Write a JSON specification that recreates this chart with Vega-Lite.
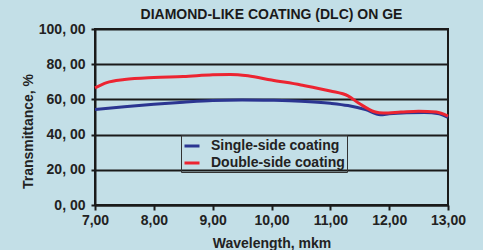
{
  "$schema": "https://vega.github.io/schema/vega-lite/v6.json",
  "autosize": "none",
  "width": 353,
  "height": 176,
  "padding": {"left": 95, "top": 29, "right": 35, "bottom": 45},
  "background": "#c3dfe7",
  "title": {"text": "DIAMOND-LIKE COATING (DLC) ON GE", "anchor": "middle", "fontSize": 14, "font": "Liberation Sans", "fontWeight": "bold", "color": "#1a1a1a", "offset": 0},
  "config": {
    "view": {"stroke": "#1a1a1a", "strokeWidth": 2, "fill": null},
    "axis": {"labelFont": "Liberation Sans", "titleFont": "Liberation Sans", "labelFontWeight": "bold", "titleFontWeight": "bold", "labelColor": "#222", "titleColor": "#222", "domainColor": "#1a1a1a", "domainWidth": 2, "tickColor": "#1a1a1a", "tickWidth": 2, "gridColor": "#1a1a1a", "gridWidth": 2, "gridOpacity": 1}
  },
  "data": {"values": [
    {"w": 7.0, "t": 54.3, "s": "Single-side coating"},
    {"w": 7.5, "t": 55.8, "s": "Single-side coating"},
    {"w": 8.0, "t": 57.2, "s": "Single-side coating"},
    {"w": 8.5, "t": 58.4, "s": "Single-side coating"},
    {"w": 9.0, "t": 59.4, "s": "Single-side coating"},
    {"w": 9.5, "t": 59.7, "s": "Single-side coating"},
    {"w": 10.0, "t": 59.5, "s": "Single-side coating"},
    {"w": 10.5, "t": 59.0, "s": "Single-side coating"},
    {"w": 11.0, "t": 57.8, "s": "Single-side coating"},
    {"w": 11.3, "t": 56.5, "s": "Single-side coating"},
    {"w": 11.6, "t": 54.2, "s": "Single-side coating"},
    {"w": 11.85, "t": 51.3, "s": "Single-side coating"},
    {"w": 12.0, "t": 51.8, "s": "Single-side coating"},
    {"w": 12.3, "t": 52.4, "s": "Single-side coating"},
    {"w": 12.6, "t": 52.6, "s": "Single-side coating"},
    {"w": 12.85, "t": 51.8, "s": "Single-side coating"},
    {"w": 13.0, "t": 49.7, "s": "Single-side coating"},
    {"w": 7.0, "t": 66.5, "s": "Double-side coating"},
    {"w": 7.2, "t": 69.5, "s": "Double-side coating"},
    {"w": 7.5, "t": 71.3, "s": "Double-side coating"},
    {"w": 8.0, "t": 72.5, "s": "Double-side coating"},
    {"w": 8.5, "t": 73.0, "s": "Double-side coating"},
    {"w": 9.0, "t": 74.0, "s": "Double-side coating"},
    {"w": 9.3, "t": 74.2, "s": "Double-side coating"},
    {"w": 9.6, "t": 73.4, "s": "Double-side coating"},
    {"w": 10.0, "t": 71.0, "s": "Double-side coating"},
    {"w": 10.5, "t": 68.2, "s": "Double-side coating"},
    {"w": 11.0, "t": 64.8, "s": "Double-side coating"},
    {"w": 11.3, "t": 62.0, "s": "Double-side coating"},
    {"w": 11.5, "t": 57.5, "s": "Double-side coating"},
    {"w": 11.75, "t": 53.0, "s": "Double-side coating"},
    {"w": 11.9, "t": 52.3, "s": "Double-side coating"},
    {"w": 12.2, "t": 52.8, "s": "Double-side coating"},
    {"w": 12.5, "t": 53.3, "s": "Double-side coating"},
    {"w": 12.8, "t": 52.8, "s": "Double-side coating"},
    {"w": 13.0, "t": 50.5, "s": "Double-side coating"}
  ]},
  "mark": {"type": "line", "strokeWidth": 3, "interpolate": "monotone"},
  "encoding": {
    "x": {"field": "w", "type": "quantitative", "scale": {"domain": [7, 13], "nice": false, "zero": false},
      "axis": {"values": [7, 8, 9, 10, 11, 12, 13], "grid": false, "title": "Wavelength, mkm", "titleFontSize": 14, "labelFontSize": 14, "tickSize": 5, "labelPadding": 3, "titlePadding": 9,
        "labelExpr": "replace(format(datum.value, '.2f'), '.', ',')", "labelFlush": false}},
    "y": {"field": "t", "type": "quantitative", "scale": {"domain": [0, 100], "nice": false},
      "axis": {"values": [0, 20, 40, 60, 80, 100], "title": "Transmittance, %", "titleFontSize": 14, "labelFontSize": 14, "tickSize": 4, "labelPadding": 6, "titleX": -67, "titleY": 102, "titleAlign": "center", "titleBaseline": "middle",
        "labelExpr": "replace(format(datum.value, '.2f'), '.', ', ')"}},
    "color": {"field": "s", "type": "nominal", "sort": ["Single-side coating", "Double-side coating"],
      "scale": {"domain": ["Single-side coating", "Double-side coating"], "range": ["#2b3591", "#ec2431"]},
      "legend": {"title": null, "orient": "none", "legendX": 86, "legendY": 106, "strokeColor": "#333", "padding": 2, "rowPadding": 1,
        "symbolType": "stroke", "symbolSize": 225, "symbolStrokeWidth": 3, "labelFont": "Liberation Sans", "labelFontWeight": "bold", "labelFontSize": 14, "labelColor": "#222", "labelOffset": 10, "labelLimit": 300}}
  }
}
